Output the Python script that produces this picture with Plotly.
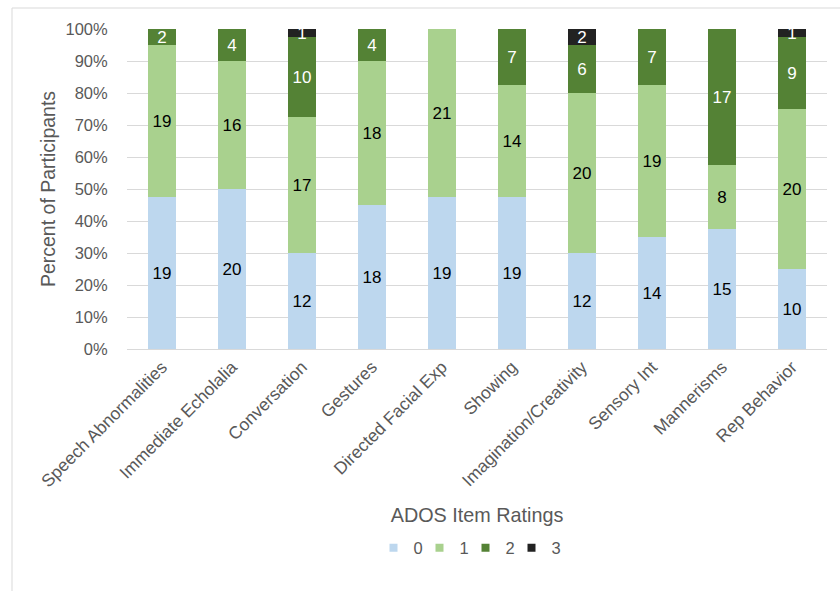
import plotly.graph_objects as go

categories = ["Speech Abnormalities", "Immediate Echolalia", "Conversation", "Gestures",
              "Directed Facial Exp", "Showing", "Imagination/Creativity", "Sensory Int",
              "Mannerisms", "Rep Behavior"]
rating0 = [19, 20, 12, 18, 19, 19, 12, 14, 15, 10]
rating1 = [19, 16, 17, 18, 21, 14, 20, 19, 8, 20]
rating2 = [2, 4, 10, 4, 0, 7, 6, 7, 17, 9]
rating3 = [0, 0, 1, 0, 0, 0, 2, 0, 0, 1]

series = [("0", rating0, "#BDD7EE", "#000000"),
          ("1", rating1, "#A9D18E", "#000000"),
          ("2", rating2, "#548235", "#FFFFFF"),
          ("3", rating3, "#222222", "#FFFFFF")]

FONT = "Liberation Sans, Arial, sans-serif"

fig = go.Figure()
for name, vals, color, tcolor in series:
    fig.add_trace(go.Bar(
        x=categories, y=vals, name=name, showlegend=False,
        marker=dict(color=color, line=dict(width=0)),
        text=[str(v) if v > 0 else "" for v in vals],
        textposition="inside", insidetextanchor="middle",
        constraintext="none", textangle=0,
        textfont=dict(family=FONT, size=17, color=tcolor),
        hoverinfo="skip",
    ))

# legend-only entries with small square swatches
for i, (name, vals, color, tcolor) in enumerate(series):
    fig.add_trace(go.Scatter(
        x=[None], y=[None], name=name, mode="markers",
        marker=dict(symbol="square", size=8, color=color),
        showlegend=True, hoverinfo="skip",
        legendwidth=10 if i == len(series) - 1 else None,
    ))

L, R, T, B = 127, 13, 29, 242
W, H = 840, 591
pw, ph = W - L - R, H - T - B

fig.update_layout(
    width=W, height=H,
    barmode="stack", barnorm="percent", bargap=0.6,
    margin=dict(l=L, r=R, t=T, b=B),
    paper_bgcolor="white", plot_bgcolor="white",
    font=dict(family=FONT, color="#595959", size=16),
    showlegend=True,
    legend=dict(orientation="h", x=0.49, xanchor="center",
                y=(349 - 548) / ph, yanchor="middle",
                font=dict(size=16.5, color="#595959"),
                itemwidth=30, entrywidth=1, entrywidthmode="pixels",
                itemsizing="trace", traceorder="normal"),
    xaxis=dict(
        tickangle=-45, tickfont=dict(size=17.5, color="#595959"),
        showgrid=False, showline=True, linecolor="#D9D9D9", linewidth=1,
        ticks="", title=dict(text="ADOS Item Ratings", font=dict(size=19.8, color="#595959"),
                             standoff=18),
        automargin=False,
    ),
    yaxis=dict(
        range=[0, 100], dtick=10, ticksuffix="%",
        tickfont=dict(size=16.5, color="#595959"),
        showgrid=True, gridcolor="#D9D9D9", gridwidth=1,
        zeroline=False, showline=False,
        ticks="outside", ticklen=15, tickcolor="rgba(0,0,0,0)",
        title=dict(text="Percent of Participants", font=dict(size=19.5, color="#595959"),
                   standoff=4),
        automargin=False,
    ),
    shapes=[
        dict(type="line", xref="paper", yref="paper",
             x0=(12 - L) / pw, x1=(12 - L) / pw, y0=1 + (T - 8) / ph, y1=(T + ph - H) / ph,
             line=dict(color="#D9D9D9", width=1)),
        dict(type="line", xref="paper", yref="paper",
             x0=(12 - L) / pw, x1=(W - L) / pw, y0=1 + (T - 8) / ph, y1=1 + (T - 8) / ph,
             line=dict(color="#D9D9D9", width=1)),
    ],
)

fig.write_html("out.html")
